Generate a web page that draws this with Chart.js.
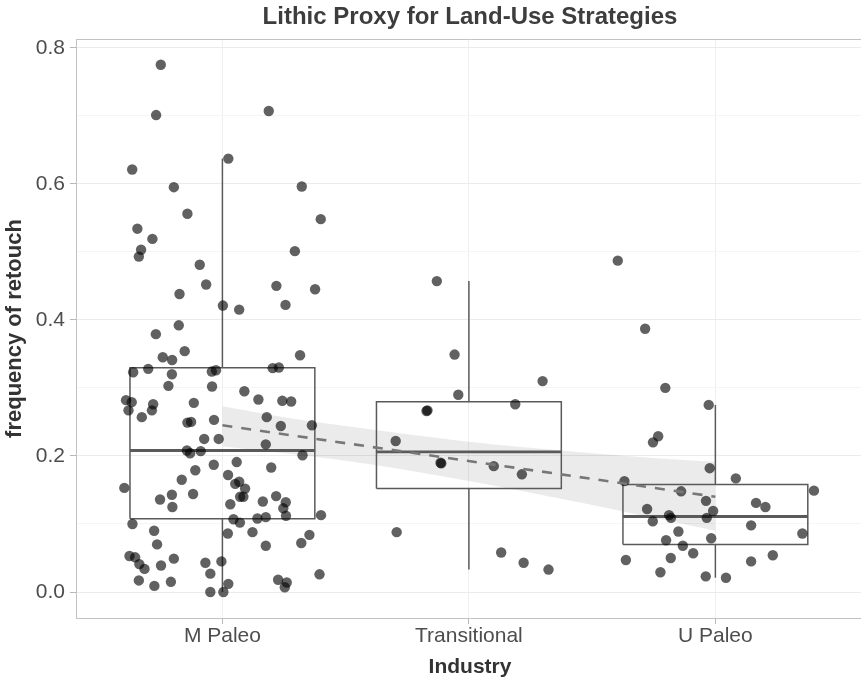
<!DOCTYPE html>
<html>
<head>
<meta charset="utf-8">
<script src="https://cdn.jsdelivr.net/npm/chart.js@4.4.1/dist/chart.umd.min.js"></script>
<style>
  html, body { margin: 0; padding: 0; background: #ffffff; overflow: hidden; }
  #wrap { width: 861px; height: 682px; overflow: hidden; }
  #chart { display: block; }
</style>
</head>
<body>
<div id="wrap"><canvas id="chart" width="864" height="682"></canvas></div>
<script>
// Industries along the x axis
const categories = ['M Paleo', 'Transitional', 'U Paleo'];

// Frequency of retouch per assemblage, with the horizontal jitter of each dot (category units)
const mPaleoValues = [
  0.775, 0.701, 0.707, 0.637, 0.621, 0.595, 0.596, 0.556, 0.548,
  0.534, 0.519, 0.503, 0.493, 0.501, 0.481, 0.452, 0.450, 0.445, 0.438,
  0.421, 0.415, 0.422, 0.392, 0.379, 0.348, 0.354, 0.345, 0.341, 0.323,
  0.328, 0.320, 0.324, 0.326, 0.329, 0.330, 0.303, 0.302, 0.295, 0.283,
  0.281, 0.280, 0.282, 0.279, 0.278, 0.276, 0.267, 0.267,
  0.257, 0.249, 0.250, 0.253, 0.257, 0.244, 0.245, 0.225, 0.225, 0.217,
  0.208, 0.204, 0.207, 0.201, 0.187, 0.191, 0.179, 0.183, 0.172, 0.165,
  0.159, 0.162, 0.152, 0.153, 0.143, 0.136, 0.144, 0.140, 0.140, 0.129,
  0.133, 0.141, 0.132, 0.123, 0.125, 0.112, 0.108, 0.110, 0.107, 0.102,
  0.113, 0.100, 0.090, 0.086, 0.088, 0.084, 0.072, 0.070, 0.068, 0.053,
  0.051, 0.041, 0.034, 0.039, 0.049, 0.043, 0.045, 0.027, 0.017, 0.009,
  0.015, 0.012, 0.000, 0.000, 0.018, 0.014, 0.007, 0.026
];
const mPaleoJitter = [
  -0.250, -0.269, 0.188, 0.024, -0.366, -0.197, 0.322, -0.142, 0.399,
  -0.345, -0.284, -0.330, -0.339, 0.294, -0.092, -0.066, 0.219, 0.376, -0.174,
  0.002, 0.068, 0.256, -0.177, -0.270, 0.315, -0.153, -0.242, -0.204, -0.362,
  -0.301, -0.205, -0.043, -0.026, 0.204, 0.229, -0.219, -0.042, 0.089, 0.146,
  0.243, 0.279, -0.391, -0.368, -0.116, -0.281, -0.381, -0.286,
  -0.327, -0.142, -0.127, -0.034, 0.180, 0.237, 0.363, -0.074, -0.015, 0.176,
  -0.144, -0.131, -0.088, 0.325, -0.035, 0.058, -0.110, 0.198, 0.023, -0.165,
  0.052, 0.068, 0.092, -0.398, -0.205, -0.253, -0.119, 0.072, 0.085, 0.032,
  0.164, 0.218, 0.257, 0.247, -0.203, 0.258, 0.142, 0.176, 0.045, 0.071,
  0.400, -0.365, -0.277, 0.022, 0.122, 0.353, 0.320, -0.265, 0.176, -0.377,
  -0.354, -0.337, -0.316, -0.249, -0.197, -0.069, -0.004, -0.049, -0.339, -0.276,
  -0.209, 0.024, -0.049, 0.004, 0.226, 0.261, 0.253, 0.394
];

const transitionalValues = [
  0.457, 0.349, 0.310, 0.290, 0.266, 0.267, 0.276, 0.222,
  0.190, 0.189, 0.185, 0.173, 0.088, 0.058, 0.043, 0.033
];
const transitionalJitter = [
  -0.130, -0.058, 0.299, -0.043, -0.172, -0.168, 0.188, -0.297,
  -0.115, -0.112, 0.101, 0.215, -0.293, 0.131, 0.222, 0.323
];

const uPaleoValues = [
  0.487, 0.387, 0.300, 0.275, 0.229, 0.220, 0.182, 0.167, 0.163, 0.149,
  0.148, 0.134, 0.131, 0.125, 0.122, 0.119, 0.113, 0.109, 0.109, 0.104,
  0.098, 0.089, 0.086, 0.079, 0.076, 0.068, 0.057, 0.054, 0.047, 0.050,
  0.045, 0.029, 0.023, 0.021
];
const uPaleoJitter = [
  -0.396, -0.285, -0.203, -0.027, -0.232, -0.253, -0.023, 0.083, -0.369, 0.400,
  -0.139, -0.038, 0.165, 0.203, -0.277, -0.009, -0.188, -0.180, -0.035, -0.254,
  0.145, -0.150, 0.353, -0.017, -0.200, -0.132, -0.090, 0.233, -0.363, -0.181,
  0.145, -0.223, -0.039, 0.043
];

// Box plot summaries per industry
const boxQ1 = [0.1075, 0.152, 0.070];
const boxMedian = [0.208, 0.206, 0.111];
const boxQ3 = [0.3295, 0.2795, 0.158];
const whiskerLow = [0.000, 0.033, 0.021];
const whiskerHigh = [0.637, 0.457, 0.275];

// Linear trend across industries and its confidence band
const trendLineX = [1, 3];
const trendLineY = [0.245, 0.140];
const bandX = [1, 1.25, 1.5, 1.75, 2, 2.25, 2.5, 2.75, 3];
const bandUpper = [0.273, 0.257, 0.244, 0.232, 0.221, 0.212, 0.204, 0.197, 0.191];
const bandLower = [0.214, 0.204, 0.193, 0.179, 0.163, 0.146, 0.128, 0.109, 0.090];

// Axis ticks
const yMajorTicks = [0, 0.2, 0.4, 0.6, 0.8];
const yMinorTicks = [0.1, 0.3, 0.5, 0.7];

const FONT = "'Liberation Sans', Arial, Helvetica, sans-serif";
Chart.defaults.font.family = FONT;

const X_MIN = 0.406;
const X_MAX = 3.603;
const BOX_HALF = 0.375;
const boxColor = '#5a5a5a';
const frameColor = '#c2c2c2';
const isMajor = v => yMajorTicks.some(t => Math.abs(t - v) < 1e-6);

const datasets = [];

// confidence band (upper edge filled down to lower edge)
datasets.push({
  data: bandX.map((x, i) => ({ x, y: bandUpper[i] })),
  showLine: true, pointRadius: 0, borderWidth: 0, tension: 0.3,
  backgroundColor: 'rgba(0,0,0,0.08)', fill: '+1', order: 10
});
datasets.push({
  data: bandX.map((x, i) => ({ x, y: bandLower[i] })),
  showLine: true, pointRadius: 0, borderWidth: 0, tension: 0.3,
  fill: false, order: 10
});

// box plots
categories.forEach((name, i) => {
  const c = i + 1;
  const line = (pts, w) => ({
    data: pts, showLine: true, pointRadius: 0, borderColor: boxColor,
    borderWidth: w, fill: false, tension: 0, order: 5,
    borderJoinStyle: 'miter', borderCapStyle: 'butt'
  });
  datasets.push(line([
    { x: c - BOX_HALF, y: boxQ1[i] }, { x: c + BOX_HALF, y: boxQ1[i] },
    { x: c + BOX_HALF, y: boxQ3[i] }, { x: c - BOX_HALF, y: boxQ3[i] },
    { x: c - BOX_HALF, y: boxQ1[i] }
  ], 1.5));
  datasets.push(line([{ x: c - BOX_HALF, y: boxMedian[i] }, { x: c + BOX_HALF, y: boxMedian[i] }], 2.8));
  datasets.push(line([{ x: c, y: boxQ3[i] }, { x: c, y: whiskerHigh[i] }], 1.5));
  datasets.push(line([{ x: c, y: whiskerLow[i] }, { x: c, y: boxQ1[i] }], 1.5));
});

// jittered observations
[[mPaleoValues, mPaleoJitter], [transitionalValues, transitionalJitter], [uPaleoValues, uPaleoJitter]]
  .forEach(([vals, jit], i) => {
    datasets.push({
      data: vals.map((v, k) => ({ x: i + 1 + jit[k], y: v })),
      pointRadius: 5.2, pointBorderWidth: 0,
      pointBackgroundColor: 'rgba(0,0,0,0.62)', showLine: false, order: 3
    });
  });

// fitted trend line
datasets.push({
  data: trendLineX.map((x, i) => ({ x, y: trendLineY[i] })),
  showLine: true, pointRadius: 0, borderColor: '#777777', borderWidth: 2.6,
  borderDash: [10, 9], fill: false, order: 1
});

new Chart(document.getElementById('chart'), {
  type: 'scatter',
  data: { datasets },
  options: {
    responsive: false,
    animation: false,
    devicePixelRatio: 1,
    layout: { padding: 0, autoPadding: false },
    plugins: {
      legend: { display: false },
      tooltip: { enabled: false },
      title: { display: false }
    },
    scales: {
      x: {
        type: 'linear', position: 'bottom', min: X_MIN, max: X_MAX,
        afterBuildTicks: axis => { axis.ticks = categories.map((_, i) => ({ value: i + 1 })); },
        afterFit: s => { s.height = 64; },
        ticks: {
          callback: v => categories[Math.round(v) - 1],
          color: '#4d4d4d', font: { size: 21 }, padding: 0,
          maxRotation: 0, autoSkip: false
        },
        grid: { color: '#efefef', lineWidth: 1, drawTicks: true, tickLength: 6, tickColor: '#b8b8b8' },
        border: { display: true, color: frameColor, width: 1 },
        title: {
          display: true, text: 'Industry', color: '#333333',
          font: { size: 21, weight: 'bold' }, padding: { top: 0, bottom: 2 }
        }
      },
      x2: {
        type: 'linear', position: 'top', min: X_MIN, max: X_MAX,
        afterFit: s => { s.height = 39; },
        ticks: { display: false },
        grid: { display: false },
        border: { display: true, color: frameColor, width: 1 },
        title: {
          display: true, text: 'Lithic Proxy for Land-Use Strategies', color: '#3d3d3d',
          font: { size: 24, weight: 'bold' }, padding: { top: 3, bottom: 0 }
        }
      },
      y: {
        type: 'linear', position: 'left', min: -0.0382, max: 0.8128,
        afterBuildTicks: axis => {
          axis.ticks = yMajorTicks.concat(yMinorTicks).sort((a, b) => a - b).map(v => ({ value: v }));
        },
        afterFit: s => { s.width = 76; },
        ticks: {
          callback: v => (isMajor(v) ? v.toFixed(1) : ''),
          color: '#4d4d4d', font: { size: 21 }, padding: 5
        },
        grid: {
          color: ctx => (ctx.tick && isMajor(ctx.tick.value) ? '#ebebeb' : '#f5f5f5'),
          tickColor: ctx => (ctx.tick && isMajor(ctx.tick.value) ? '#b8b8b8' : 'rgba(0,0,0,0)'),
          lineWidth: 1, drawTicks: true, tickLength: 6
        },
        border: { display: true, color: frameColor, width: 1 },
        title: {
          display: true, text: 'frequency of retouch', color: '#333333',
          font: { size: 22, weight: 'bold' }, padding: { top: 2, bottom: 0 }
        }
      }
    }
  }
});
</script>
</body>
</html>
